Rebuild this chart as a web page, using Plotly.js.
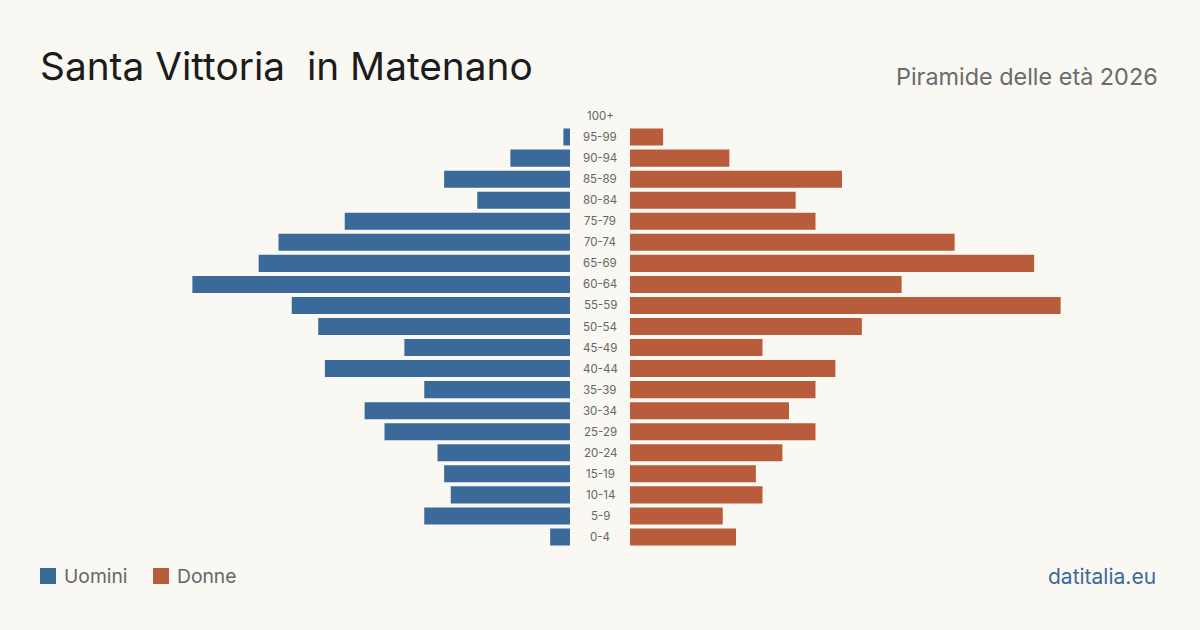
<!DOCTYPE html>
<html>
<head>
<meta charset="utf-8">
<script src="https://cdn.plot.ly/plotly-3.0.1.min.js"></script>
<style>html,body{margin:0;padding:0;background:#f9f8f3;}#chart{width:1200px;height:630px;}</style>
</head>
<body>
<div id="chart"></div>
<script>
const ageGroups = ["0-4","5-9","10-14","15-19","20-24","25-29","30-34","35-39","40-44","45-49","50-54","55-59","60-64","65-69","70-74","75-79","80-84","85-89","90-94","95-99","100+"];
const uomini = [3,22,18,19,20,28,31,22,37,25,38,42,57,47,44,34,14,19,9,1,0];
const donne  = [16,14,20,19,23,28,24,28,31,20,35,65,41,61,49,28,25,32,15,5,0];
const titleText = "Santa Vittoria&nbsp; in Matenano";
const subtitleText = "Piramide delle età 2026";
const legendNames = ["Uomini","Donne"];
const sourceText = "datitalia.eu";

const W = 1200, H = 630;
const px = x => x / W;
const py = y => 1 - y / H;
const blue = "#3b6a9a", orange = "#b95c3c", bg = "#f9f8f3";
const FONT = "Inter, 'Noto Sans', sans-serif";

const traces = [
  {type:"bar", orientation:"h", x:uomini, y:ageGroups, xaxis:"x", yaxis:"y", marker:{color:blue}, name:legendNames[0], hoverinfo:"x+y"},
  {type:"bar", orientation:"h", x:donne, y:ageGroups, xaxis:"x2", yaxis:"y", marker:{color:orange}, name:legendNames[1], hoverinfo:"x+y"}
];

const annotations = ageGroups.map(g => ({
  x: 0.5, xref:"paper", y:g, yref:"y", text:g, showarrow:false,
  xanchor:"center", yanchor:"middle", font:{family:FONT, size:11.5, color:"#666"}
}));
annotations.push(
  {x:px(38), y:py(66), xref:"paper", yref:"paper", text:titleText, showarrow:false, xanchor:"left", yanchor:"middle", font:{family:FONT, size:38.8, color:"#1c1c1c"}},
  {x:px(1160), y:py(76), xref:"paper", yref:"paper", text:subtitleText, showarrow:false, xanchor:"right", yanchor:"middle", font:{family:FONT, size:23.4, color:"#6b6b6b"}},
  {x:px(62), y:py(576), xref:"paper", yref:"paper", text:legendNames[0], showarrow:false, xanchor:"left", yanchor:"middle", font:{family:FONT, size:19.3, color:"#666"}},
  {x:px(175), y:py(576), xref:"paper", yref:"paper", text:legendNames[1], showarrow:false, xanchor:"left", yanchor:"middle", font:{family:FONT, size:19.3, color:"#666"}},
  {x:px(1158), y:py(576), xref:"paper", yref:"paper", text:sourceText, showarrow:false, xanchor:"right", yanchor:"middle", font:{family:FONT, size:21, color:blue}}
);

const shapes = [
  {type:"rect", xref:"paper", yref:"paper", x0:px(40), x1:px(56), y0:py(584), y1:py(568), fillcolor:blue, line:{width:0}},
  {type:"rect", xref:"paper", yref:"paper", x0:px(153), x1:px(169), y0:py(584), y1:py(568), fillcolor:orange, line:{width:0}}
];

const layout = {
  width:W, height:H,
  margin:{l:0, r:0, t:0, b:0},
  paper_bgcolor:bg, plot_bgcolor:bg,
  showlegend:false,
  bargap:0.19,
  xaxis:{domain:[px(40), px(570)], range:[80,0], showgrid:false, zeroline:false, showticklabels:false, fixedrange:true},
  xaxis2:{domain:[px(630), px(1160)], range:[0,80], showgrid:false, zeroline:false, showticklabels:false, fixedrange:true},
  yaxis:{domain:[py(547.5), py(105.5)], type:"category", categoryorder:"array", categoryarray:ageGroups, showticklabels:false, showgrid:false, zeroline:false, fixedrange:true},
  annotations, shapes
};

Plotly.newPlot("chart", traces, layout, {displayModeBar:false, staticPlot:true});
</script>
</body>
</html>
